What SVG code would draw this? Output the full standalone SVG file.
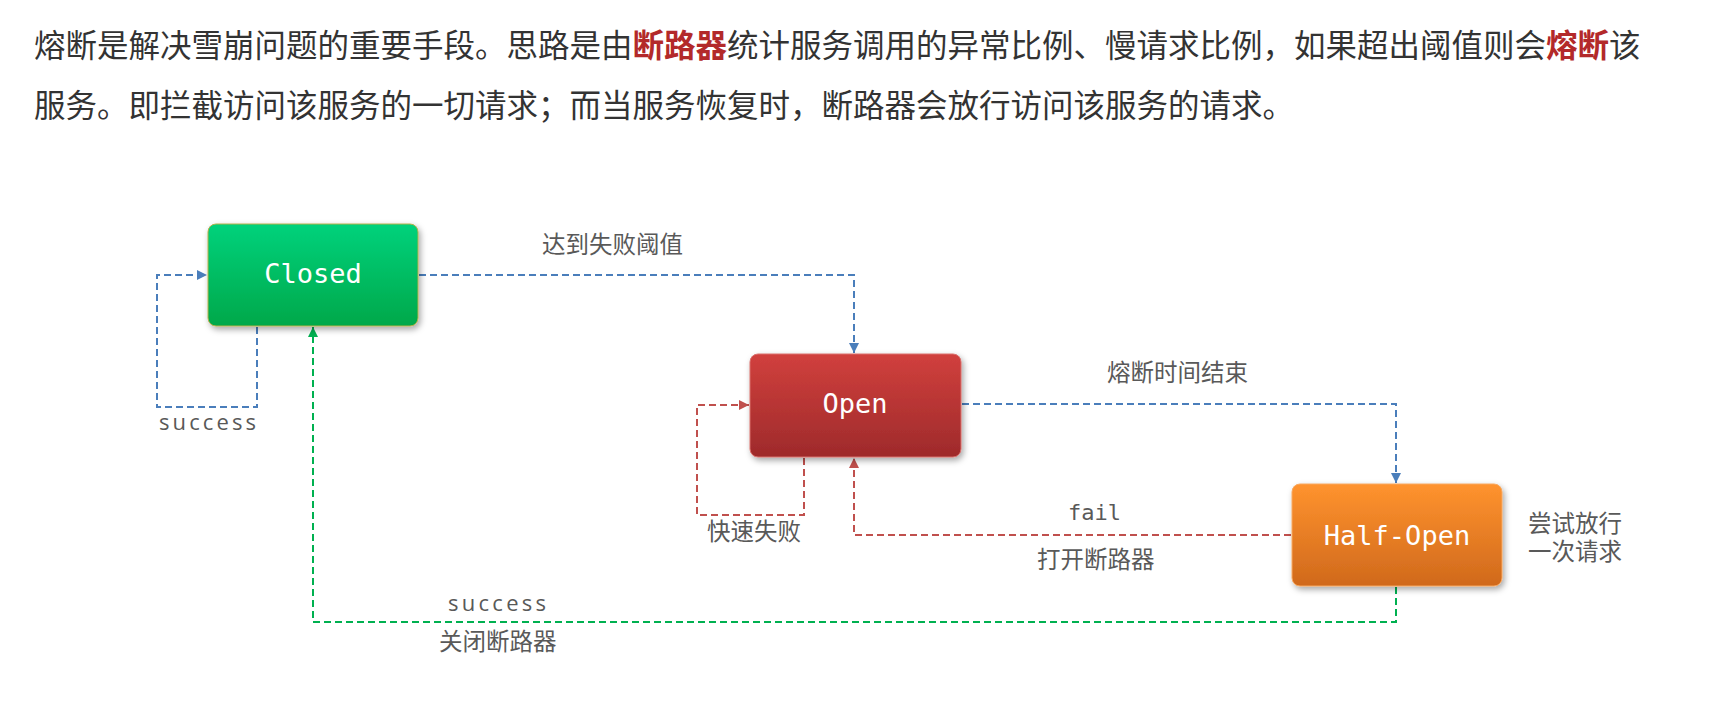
<svg xmlns="http://www.w3.org/2000/svg" width="1714" height="715" viewBox="0 0 1714 715">
<style>
.hdr{font-family:"Noto Sans CJK SC","Noto Sans",sans-serif;font-size:31.5px;fill:#333333}
.hl{fill:#B3292A;font-weight:bold}
.lbl{font-family:"Noto Sans CJK SC","Noto Sans",sans-serif;font-size:23.5px;fill:#595959}
.lbl2{font-family:"Liberation Sans","Noto Sans CJK SC",sans-serif;font-size:23.5px;fill:#595959}
.en{font-family:"Open Sans","Noto Sans",sans-serif;font-size:22px;fill:#595959}
.mono{font-family:"DejaVu Sans Mono","Liberation Mono",monospace;font-size:22px;fill:#595959}
.box-t{font-family:"DejaVu Sans Mono","Liberation Mono",monospace;font-size:27px;fill:#ffffff;text-anchor:middle}
.c{fill:none;stroke-width:2;stroke-dasharray:7 4}
.blue{stroke:#4A7EBB}
.red{stroke:#C0504D}
.green{stroke:#00B050}
</style>
<defs>
<linearGradient id="gG" x1="0" y1="0" x2="0" y2="1"><stop offset="0" stop-color="#00D27C"/><stop offset="1" stop-color="#00A84A"/></linearGradient>
<linearGradient id="gR" x1="0" y1="0" x2="0" y2="1"><stop offset="0" stop-color="#D1403D"/><stop offset="1" stop-color="#9E2A2B"/></linearGradient>
<linearGradient id="gO" x1="0" y1="0" x2="0" y2="1"><stop offset="0" stop-color="#FF932E"/><stop offset="1" stop-color="#D0691C"/></linearGradient>
<filter id="sh" x="-10%" y="-10%" width="125%" height="135%"><feDropShadow dx="2" dy="3" stdDeviation="3" flood-color="#000" flood-opacity="0.35"/></filter>
<marker id="aB" viewBox="0 0 10 10" refX="10" refY="5" markerWidth="5" markerHeight="5" orient="auto" markerUnits="strokeWidth"><path d="M0,0 L10,5 L0,10 z" fill="#4A7EBB"/></marker>
<marker id="aR" viewBox="0 0 10 10" refX="10" refY="5" markerWidth="5" markerHeight="5" orient="auto" markerUnits="strokeWidth"><path d="M0,0 L10,5 L0,10 z" fill="#C0504D"/></marker>
<marker id="aG" viewBox="0 0 10 10" refX="10" refY="5" markerWidth="5" markerHeight="5" orient="auto" markerUnits="strokeWidth"><path d="M0,0 L10,5 L0,10 z" fill="#00B050"/></marker>
</defs>
<rect width="1714" height="715" fill="#ffffff"/>
<g id="header">
<text class="hdr" x="34" y="57">熔断是解决雪崩问题的重要手段。思路是由<tspan class="hl">断路器</tspan>统计服务调用的异常比例、慢请求比例，如果超出阈值则会<tspan class="hl">熔断</tspan>该</text>
<text class="hdr" x="34" y="117">服务。即拦截访问该服务的一切请求；而当服务恢复时，断路器会放行访问该服务的请求。</text>
</g>
<g id="connectors">
<path class="c blue" d="M257,327 V407 H157 V275 H207" marker-end="url(#aB)"/>
<path class="c blue" d="M419,275 H854 V353" marker-end="url(#aB)"/>
<path class="c red" d="M804,458 V515 H697 V405 H749" marker-end="url(#aR)"/>
<path class="c blue" d="M962,404 H1396 V483" marker-end="url(#aB)"/>
<path class="c red" d="M1291,535 H854 V458" marker-end="url(#aR)"/>
<path class="c green" d="M1396,587 V622 H313 V327" marker-end="url(#aG)"/>
</g>
<g id="labels">
<text class="lbl" x="542" y="253">达到失败阈值</text>
<text class="en" x="159" y="430" textLength="97" lengthAdjust="spacing">success</text>
<text class="lbl" x="1107" y="381">熔断时间结束</text>
<text class="lbl" x="707" y="540">快速失败</text>
<text class="mono" x="1068" y="520">fail</text>
<text class="lbl" x="1037" y="568">打开断路器</text>
<text class="lbl2"><tspan x="1528" y="532">尝试放行</tspan><tspan x="1528" y="560">一次请求</tspan></text>
<text class="en" x="448" y="611" textLength="98" lengthAdjust="spacing">success</text>
<text class="lbl" x="439" y="650">关闭断路器</text>
</g>
<g id="closed">
<rect x="208" y="224" width="210" height="102" rx="8" fill="url(#gG)" stroke="#B5B04A" stroke-width="1" filter="url(#sh)"/>
<text class="box-t" x="313" y="283">Closed</text>
</g>
<g id="open">
<rect x="750" y="354" width="211" height="103" rx="8" fill="url(#gR)" stroke="#D9706D" stroke-width="1" filter="url(#sh)"/>
<text class="box-t" x="855" y="413">Open</text>
</g>
<g id="half-open">
<rect x="1292" y="484" width="210" height="102" rx="8" fill="url(#gO)" stroke="#F7A860" stroke-width="1" filter="url(#sh)"/>
<text class="box-t" x="1397" y="545">Half-Open</text>
</g>
</svg>
